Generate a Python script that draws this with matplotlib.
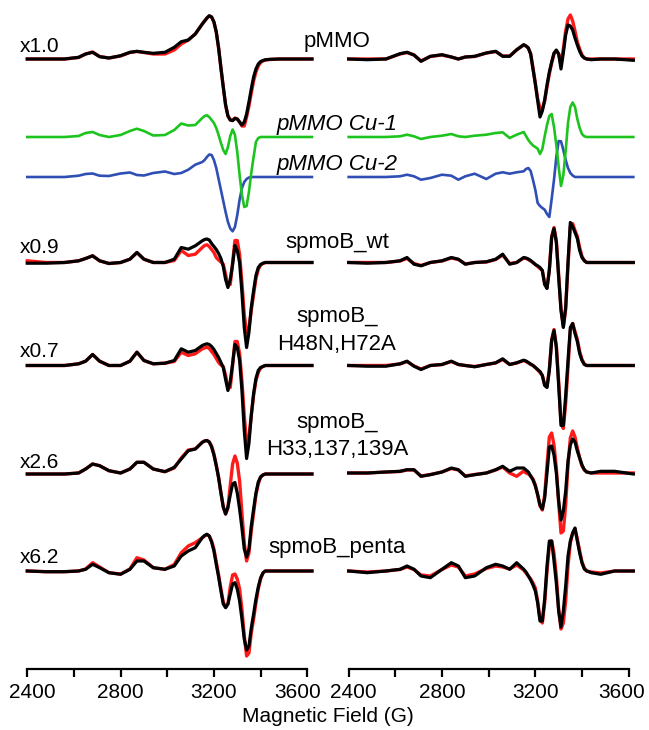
import numpy as np
import matplotlib.pyplot as plt
from matplotlib.transforms import ScaledTranslation

plt.rcParams['font.family'] = ['Liberation Sans', 'DejaVu Sans']

# magnetic field grid (G), shared by all traces; denser around g-perp
field = np.array([2400, 2480, 2560, 2620, 2650, 2680, 2710, 2750, 2800, 2840,
                  2870, 2900, 2940, 2990, 3030, 3060, 3090, 3120, 3150,
                  3160, 3170, 3180, 3190, 3200, 3210, 3220, 3230, 3240, 3250,
                  3260, 3270, 3280, 3290, 3300, 3310, 3320, 3330, 3340, 3350,
                  3360, 3370, 3380, 3390, 3400, 3410, 3420,
                  3440, 3480, 3540, 3620])

# ---- left panel, amplitudes (arb. units)
pmmo_L = [0, 0, 0, 1.7, 5, 6.7, 2.3, 1, 3.3, 6.7, 7.7, 6.7, 5.7, 6.7, 11.7, 17.3, 19, 25, 35,
          38, 41, 43.3, 42, 37, 27, 11, -9, -28, -46, -57, -61, -61.7, -59.5, -60, -63, -66, -63,
          -55, -43, -30, -18, -10, -5, -2.5, -1.5, -0.8, -0.3, 0, 0, 0]
pmmo_L_fit = [0, 0, 0, 1.5, 5, 7, 2.5, 1, 3, 6.5, 7.5, 6.5, 5, 5, 9, 15, 19, 25, 35,
              38, 41, 43, 42, 37, 27, 11, -9, -28, -46, -57, -61, -61, -59, -60, -63, -67, -67,
              -58, -47, -34, -22, -13, -7, -3.5, -2, -1, -0.5, 0, 0, 0]
cu1_L = [0, 0, 0, 1, 4, 5, 2, 0, 2, 6, 8.3, 6, 1.5, 2, 7, 13.5, 11.5, 12, 19,
         21, 21.7, 20, 17, 14, 9, 2, -6, -13, -17, -10, 1, 7.5, 2, -15, -38, -58, -70,
         -69, -55, -36, -20, -5, -1, 0, 0, 0, 0, 0, 0, 0]
cu2_L = [0, 0, 0, 1.3, 3, 3.5, 1.3, 1, 3.5, 4.5, 2, 1.5, 4, 5.5, 3, 4, 7.3, 12.3, 15,
         17, 20, 22.5, 22, 17, 9, -2, -13, -24, -35, -45, -51.5, -54.3, -50, -38, -22.7, -11, -5,
         -2, -0.5, 0, 0, 0, 0, 0, 0, 0, 0, 0, 0, 0]
wt_L = [-0.7, -0.7, 0, 1.7, 4, 6.7, 1.7, -1, 0, 3.3, 10, 3.3, 0, 0, 3.3, 15, 13.3, 16.7, 21.7,
        23, 23.5, 22.5, 19, 16, 13, 9, 4, -4, -17, -25, -17, -2, 17, 12, 0, -30, -65,
        -85, -70, -45, -28, -13, -5, -2, -0.7, 0, 0, 0, 0, 0]
wt_L_fit = [1.7, 0, 0, 1.7, 4, 6.7, 1.7, -1, 0, 3.3, 10, 3.3, 0, 0, 2, 12, 7, 8.3, 15,
            17, 17.7, 16, 13, 10, 5, 2.5, 0.5, -1.7, -12, -22, -22, 0, 22, 22, 8, -20, -52,
            -70, -66, -48, -32, -16, -7, -2.5, -1, 0, 0, 0, 0, 0]
h48_L = [0, 0, 0, 1.7, 4.3, 11, 4.3, 0, 0, 4.3, 13.3, 5, 1.7, 2.3, 5, 16.7, 13.3, 15, 20,
         21, 21.7, 21, 19, 16, 12, 8, 3, -2, -14, -25, -16, 2, 21, 18, 5, -25, -65,
         -93, -78, -50, -28, -13, -5, -2, -1, 0, 0, 0, 0, 0]
h48_L_fit = [0, 0, 0, 1.7, 4.3, 11, 4.3, 0, 0, 4.3, 13.3, 5, 1.7, 2.3, 4, 13.3, 10, 11.7, 16.7,
             17.5, 18.3, 17, 14, 11, 7, 3, 0.5, -1, -10, -21, -22, 0, 24, 24, 12, -15, -50,
             -78, -72, -50, -30, -15, -7, -2.5, -1, 0, 0, 0, 0, 0]
h33_L = [-1, -1, -1, 0, 4, 9, 7.3, 2.3, 0, 4, 10.7, 10.7, 4, 1.3, 5.7, 14, 22.3, 24, 30.7,
         32, 32.5, 31, 26, 18, 7.3, -5, -20, -34, -41, -34, -22, -11, -9.5, -20, -36, -55, -76,
         -84, -76, -53, -36, -20, -9, -4, -2, -1, -1, -1, -1, -1]
h33_L_fit = [-1, -1, -1, 0, 4, 9, 7.3, 2.3, 0, 4, 10.7, 10.7, 4, 1.3, 5, 15, 23, 24, 30.7,
             32, 32.5, 31, 27, 19, 8, -4, -20, -34, -41, -35, -12, 9, 17, 10, -8, -40, -70,
             -88, -80, -58, -40, -22, -11, -4, -2, -1, -1, -1, -1, -1]
penta_L = [0, -0.7, -0.7, 0, 1.7, 6.7, 3.3, -1.7, -3.3, 1.7, 10, 10, 3.3, 1.7, 5, 15, 20, 23.3, 33.3,
           35.5, 36.7, 35, 29, 20, 6.7, -6, -20, -33, -36.7, -33, -23, -13, -11.7, -18, -30, -48, -68,
           -79, -75, -57, -43, -28, -16, -7, -2, 0, 0, 0, 0, 0]
penta_L_fit = [0, -0.7, -0.7, 0, 2, 8.3, 4, -1.7, -3, 2, 13.3, 11, 3.3, 1.7, 6.5, 18.3, 25, 28.3, 33.3,
               35, 36.5, 35, 30, 22, 9, -4, -18, -31, -36, -33, -16, -4, -3, -8, -18, -38, -65,
               -85, -82, -62, -48, -32, -18, -8, -2, 0, 0, 0, 0, 0]

# ---- right panel
pmmo_R = [0, -0.7, 0, 5.3, 6.7, 4, -2.3, 2.7, 4.3, 2, 0, 2, 2.7, 6, 7.7, 2.7, 2.7, 9.3, 14.3,
          13, 11, 5, -10, -25, -41.7, -58, -52, -41, -26, -13, -3, 6, 9, 5, -10, 6, 24,
          34, 33, 29, 21, 14, 7.7, 3, 1, 0, -0.7, 0, 0, -1.3]
pmmo_R_fit = [0, 0, 0, 5, 6.5, 4, -2, 2.5, 4, 2, 0, 2, 2.5, 6, 7.5, 3, 3, 9, 14,
              13, 11, 5, -9, -24, -40, -49, -50, -42, -28, -15, -4, 5, 8, 5, -5, 10, 28,
              40, 44, 38, 28, 17, 10, 4, 1, 0, 0, 0, 0, 0]
cu1_R = [0, 0, 0, 0.7, 2.3, 0.7, -2, 0, 1.3, 3, 0.7, 0, 1.3, 2.3, 4, 4.7, -1, 2.3, 5,
         1, -3, -6, -8.5, -10, -11.7, -17, -12, 0.7, 12, 21, 23, 10, -8, -30, -49, -38, -14,
         14, 30, 34.5, 30, 18, 9, 3, 0.7, 0, 0, 0, 0, 0]
cu2_R = [0, 0, 0, 0.7, 2.3, 0.7, -2.7, -1, 2.3, 1.3, -2.7, 0.7, 3.3, -2, 3.3, 4.7, 3.3, 4.7, 5.7,
         8, 9, 6, -3, -13, -26, -29, -31, -32.7, -37, -40, -22, -2.7, 20, 36, 35.7, 27, 17,
         9, 4, 1.5, 0, 0, 0, 0, 0, 0, 0, 0, 0, 0]
wt_R = [0, -0.7, 0, 1.7, 5, -1.7, -3.3, 0, 1.7, 5, 3.3, -1.7, 0, 0.7, 3.3, 8.3, -1.7, 0, 5,
        4.5, 3.5, 2, 0, -2, -3.3, -5, -8, -22, -26, -8, 25, 34, 20, -15, -48, -65, -45,
        0, 40, 36, 30, 24, 12, 5, 1.7, 0, 0, 0, 0, 0]
wt_R_fit = [0, 0, 0, 1.5, 4, -1, -3, 0, 1.5, 4.5, 3, -1.5, 0, 0.5, 3, 7.5, -1, 0, 4.5,
            4, 3, 1.5, 0, -2, -4, -6, -8, -21, -25, -7, 26, 35, 22, -12, -46, -64, -47,
            -3, 36, 39, 32, 26, 15, 6, 2, 0, 0, 0, 0, 0]
h48_R = [0, -0.7, -0.7, 1.7, 4.3, -0.7, -4, 0, 1, 4.3, 1, 0, -1.3, 1, 2.7, 6.7, 1, 2.7, 5.3,
         4.5, 3, 1.5, 0, -2, -4, -6, -10, -20, -22, -5, 25, 35, 18, -20, -60, -60, -30,
         5, 38, 42, 32, 24, 12, 5, 1, 0, 0, 0, 0, 0]
h48_R_fit = [0, 0, 0, 1.5, 4, -0.5, -3.5, 0, 1, 4, 1, 0, -1, 1, 2.5, 6, 1, 2.5, 5,
             4, 2.5, 1, 0, -2, -4.5, -7, -10, -19, -21, -4, 26, 36, 20, -16, -56, -63, -38,
             -2, 35, 42, 34, 26, 14, 6, 1.5, 0, 0, 0, 0, 0]
h33_R = [0, 0, 1, 1.7, 3.3, 3.3, -3.3, -1.7, 1, 5, 3.3, -3.3, -1.7, 0, 3.3, 6.7, 1.7, 5, 5,
         3, 1, -3, -7, -13, -21.7, -32, -36, -25, 0, 26, 27, 18, 0, -28, -47, -38, -18,
         12, 28, 34, 31, 22, 15, 8, 3.3, 1, 0, 1.7, 1.7, -1]
h33_R_fit = [0, 0, 1, 1.5, 3, 3, -3, -1.5, 1, 4.5, 3, -3, -1.5, 0, 3, 6, 0, -3.3, 2,
             0, -1, -3, -6, -12, -22, -33, -37, -22, 8, 36, 40, 28, 5, -30, -60, -58, -32,
             8, 35, 42, 36, 25, 15, 7, 3, 1, 0, 0, 0, 0]
penta_R = [0, -1.7, 0, 1.7, 5, 1.7, -5, -6.7, 1.7, 8.3, 5, -6.7, -5, 3.3, 6.7, 5, 1.7, 8.3, 1.7,
           -1, -5, -9, -14, -20, -32, -50, -50, -28, 5, 30, 30, 10, -12, -40, -56, -40, -15,
           15, 30, 38, 43, 30, 18, 8, 2, 0, -1.7, -3.3, 0, 0]
penta_R_fit = [0, -1, 0, 1.5, 4, 1.5, -4, -5, 1.5, 6, 4, -5, -3, 2.5, 5, 4, 2, 6, 1,
               -2, -5, -8, -12, -17, -30, -48, -52, -32, 0, 25, 30, 18, -5, -38, -58, -52, -30,
               5, 28, 38, 42, 32, 20, 9, 3, 0, -1, -2, 0, 0]

# stacking (vertical offsets of each trace)
offsets = [59, 137, 177, 262.5, 365.5, 473, 571]

left_exp = [pmmo_L, wt_L, h48_L, h33_L, penta_L]
left_fit = [pmmo_L_fit, wt_L_fit, h48_L_fit, h33_L_fit, penta_L_fit]
right_exp = [pmmo_R, wt_R, h48_R, h33_R, penta_R]
right_fit = [pmmo_R_fit, wt_R_fit, h48_R_fit, h33_R_fit, penta_R_fit]
exp_offsets = [offsets[0]] + offsets[3:]

W, H = 649, 730
fig = plt.figure(figsize=(W / 100, H / 100), dpi=100)

ax_l = fig.add_axes([22.6 / W, 61 / H, 294 / W, 669 / H])
ax_r = fig.add_axes([344.0 / W, 61 / H, 294 / W, 669 / H])

red = '#ff1a1a'
green = '#1ec41e'
blue = '#2f4fb5'

for ax, exps, fits, cu1, cu2 in [(ax_l, left_exp, left_fit, cu1_L, cu2_L),
                                 (ax_r, right_exp, right_fit, cu1_R, cu2_R)]:
    for e, f, off in zip(exps, fits, exp_offsets):
        ax.plot(field, np.array(f) - off, color=red, lw=2.4, solid_joinstyle='round')
        ax.plot(field, np.array(e) - off, color='black', lw=2.3, solid_joinstyle='round')
    ax.plot(field, np.array(cu2) - offsets[2], color=blue, lw=1.9, solid_joinstyle='round')
    ax.plot(field, np.array(cu1) - offsets[1], color=green, lw=1.9, solid_joinstyle='round')

    ax.set_xlim(2380, 3640)
    ax.set_ylim(-669, 0)
    for s in ['left', 'right', 'top']:
        ax.spines[s].set_visible(False)
    ax.spines['bottom'].set_bounds(2400, 3600)
    ax.spines['bottom'].set_linewidth(1.6)
    ax.set_yticks([])
    ax.set_xticks([2400, 2800, 3200, 3600])
    ax.set_xticks([2600, 3000, 3400], minor=True)
    ax.tick_params(axis='x', which='both', direction='out', length=6, width=1.6,
                   labelsize=15, pad=4)
    ax.patch.set_alpha(0)

# nudge end tick labels inwards like the original
for ax, dl, dr in [(ax_l, 5, -10), (ax_r, 5, -7)]:
    labs = ax.get_xticklabels()
    labs[0].set_transform(labs[0].get_transform() + ScaledTranslation(dl / 100, 0, fig.dpi_scale_trans))
    labs[-1].set_transform(labs[-1].get_transform() + ScaledTranslation(dr / 100, 0, fig.dpi_scale_trans))


def lab(x, y, s, ha='center', size=16, **kw):
    fig.text(x / W, 1 - y / H, s, ha=ha, va='baseline', fontsize=size, **kw)


for s, y in [('x1.0', 52), ('x0.9', 253), ('x0.7', 357), ('x2.6', 468), ('x6.2', 563)]:
    lab(20, y, s, ha='left', size=15)

lab(337, 47, 'pMMO')
lab(337, 130, 'pMMO Cu-1', style='italic')
lab(337, 170, 'pMMO Cu-2', style='italic')
lab(337, 248, 'spmoB_wt')
lab(337, 322, 'spmoB_')
lab(337, 350, 'H48N,H72A')
lab(337, 428, 'spmoB_')
lab(337.5, 455, 'H33,137,139A')
lab(337, 553, 'spmoB_penta')
lab(328, 722, 'Magnetic Field (G)', size=15)

fig.savefig('out.png', dpi=100)
